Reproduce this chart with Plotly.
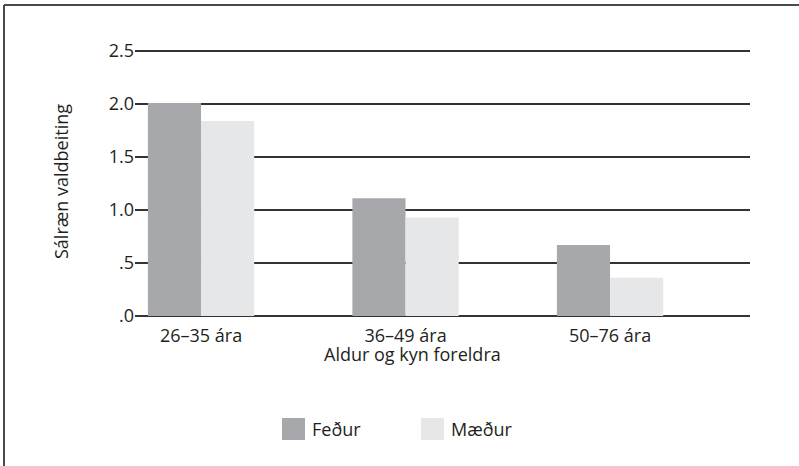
import plotly.graph_objects as go

categories = ["26\u201335 \u00e1ra", "36\u201349 \u00e1ra", "50\u201376 \u00e1ra"]
fedur = [2.01, 1.11, 0.67]
maedur = [1.84, 0.93, 0.36]
ytick_vals = [0, 0.5, 1.0, 1.5, 2.0, 2.5]
ytick_text = [".0", ".5", "1.0", "1.5", "2.0", "2.5"]
series_names = ["Fe\u00f0ur", "M\u00e6\u00f0ur"]
colors = ["#a7a8ab", "#e6e7e8"]

W, H = 799, 466
L, R, T, B = 135, 49, 46, 150
PW, PH = W - L - R, H - T - B
FONT = "Open Sans"
FS = 18
PX_PER_UNIT = 106.0

def px(x):
    return (x - L) / PW

def py(y):
    return (H - B - y) / PH

xpos = list(range(len(categories)))

fig = go.Figure()
for name, vals, col in zip(series_names, [fedur, maedur], colors):
    fig.add_trace(go.Bar(x=xpos, y=vals, name=name, marker=dict(color=col, line=dict(width=0)),
                         showlegend=False))

fig.update_layout(
    width=W, height=H,
    margin=dict(l=L, r=R, t=T, b=B),
    paper_bgcolor="white", plot_bgcolor="white",
    barmode="group", bargap=0.48, bargroupgap=0,
    font=dict(family=FONT, size=FS, color="#231f20"),
    xaxis=dict(range=[-0.323, -0.323 + PW / 204.5], tickvals=xpos, ticktext=categories,
               showgrid=False, zeroline=False, showline=False, ticks="", tickfont=dict(size=FS),
               ticklabelstandoff=7),
    yaxis=dict(range=[0, PH / PX_PER_UNIT], tickvals=ytick_vals, ticktext=ytick_text,
               showgrid=True, gridcolor="#333333", gridwidth=1.5,
               zeroline=True, zerolinecolor="#333333", zerolinewidth=1.5,
               showline=False, ticks="", tickfont=dict(size=FS)),
)

annotations = [
    dict(text="Aldur og kyn foreldra", x=px(412), y=py(354), xref="paper", yref="paper",
         xanchor="center", yanchor="middle", showarrow=False, font=dict(size=FS)),
    dict(text="S\u00e1lr\u00e6n valdbeiting", x=px(61), y=py(182), xref="paper", yref="paper",
         xanchor="center", yanchor="middle", showarrow=False, textangle=-90, font=dict(size=FS)),
]
shapes = []
legend_pos = [(282, 310), (421, 449)]
for (sx, tx), name, col in zip(legend_pos, series_names, colors):
    shapes.append(dict(type="rect", xref="paper", yref="paper", x0=px(sx), x1=px(sx + 23),
                       y0=py(440), y1=py(418), fillcolor=col, line=dict(width=0)))
    annotations.append(dict(text=name, x=px(tx), y=py(429), xref="paper", yref="paper",
                            xanchor="left", yanchor="middle", showarrow=False, font=dict(size=FS)))
# frame
shapes.append(dict(type="line", xref="paper", yref="paper", x0=px(4), x1=px(799), y0=py(5), y1=py(5),
                   line=dict(color="#4a4a4a", width=2)))
shapes.append(dict(type="line", xref="paper", yref="paper", x0=px(4), x1=px(4), y0=py(5), y1=py(466),
                   line=dict(color="#4a4a4a", width=2)))
fig.update_layout(annotations=annotations, shapes=shapes)

fig.write_html("out.html", config={"displayModeBar": False},
               post_script="document.body.style.margin='0px';")
